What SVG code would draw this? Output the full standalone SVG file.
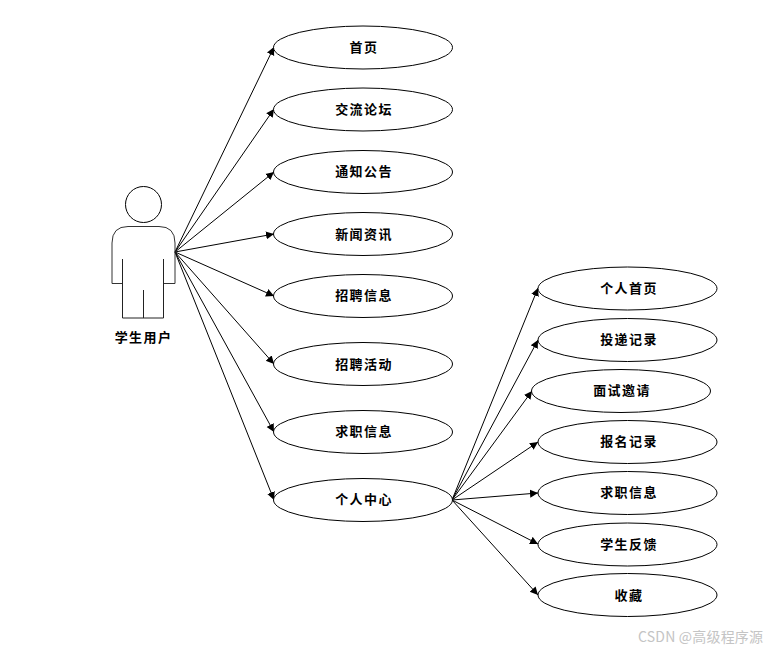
<svg xmlns="http://www.w3.org/2000/svg" width="771" height="651" viewBox="0 0 771 651">
<style>
.n{fill:#fff;stroke:#000;stroke-width:1}
.t{font-family:"Noto Sans CJK SC",sans-serif;font-size:13px;font-weight:700;text-anchor:middle;dominant-baseline:central;letter-spacing:1.400px;fill:#000}
.c{stroke:#000;stroke-width:1;fill:none;marker-end:url(#a)}
.w{font-family:"Noto Sans CJK SC",sans-serif;font-size:14px;letter-spacing:.2px;fill:#c4c4c4}
</style>
<defs><marker id="a" markerUnits="userSpaceOnUse" markerWidth="10" markerHeight="10" refX="8" refY="4.500" orient="auto"><path d="M0 0.500L8 4.500L0 8.500Z" fill="#000"/></marker></defs>
<rect width="771" height="651" fill="#fff"/>
<g id="connectors">
<path class="c" d="M175 252L274 47"/>
<path class="c" d="M175 252L274 109"/>
<path class="c" d="M175 252L274 172"/>
<path class="c" d="M175 252L274 234"/>
<path class="c" d="M175 252L274 296"/>
<path class="c" d="M175 252L274 364"/>
<path class="c" d="M175 252L274 432"/>
<path class="c" d="M175 252L274 500"/>
<path class="c" d="M452 500L538 288"/>
<path class="c" d="M452 500L538 340"/>
<path class="c" d="M452 500L532 391" stroke-width="1.400"/>
<path class="c" d="M452 500L538 442"/>
<path class="c" d="M452 500L538 493"/>
<path class="c" d="M452 500L538 544"/>
<path class="c" d="M452 500L538 595"/>
</g>
<g id="actor" fill="none" stroke="#000">
<circle cx="143.500" cy="204.500" r="18" fill="#fff"/>
<path d="M122 283.500H112V243Q112 226.500 128 226.500H159Q175 226.500 175 243V283.500H164" stroke="#333"/>
<path d="M122.500 259V318H163.500V259M143.500 290V318" stroke="#222"/>
<text class="t" x="143.500" y="336" stroke="none">学生用户</text>
</g>
<g id="n1"><ellipse class="n" cx="363" cy="47.500" rx="89.500" ry="21.500"/><text class="t" x="364" y="46">首页</text></g>
<g id="n2"><ellipse class="n" cx="363" cy="109.500" rx="89.500" ry="21.500"/><text class="t" x="364" y="108">交流论坛</text></g>
<g id="n3"><ellipse class="n" cx="363" cy="172" rx="89.500" ry="21.500"/><text class="t" x="364" y="170">通知公告</text></g>
<g id="n4"><ellipse class="n" cx="363" cy="234" rx="89.500" ry="21.500"/><text class="t" x="364" y="233">新闻资讯</text></g>
<g id="n5"><ellipse class="n" cx="363" cy="296" rx="89.500" ry="21.500"/><text class="t" x="364" y="294">招聘信息</text></g>
<g id="n6"><ellipse class="n" cx="363" cy="364" rx="89.500" ry="21.500"/><text class="t" x="364" y="363">招聘活动</text></g>
<g id="n7"><ellipse class="n" cx="363" cy="432" rx="89.500" ry="21.500"/><text class="t" x="364" y="430">求职信息</text></g>
<g id="n8"><ellipse class="n" cx="363" cy="500" rx="89.500" ry="21.500"/><text class="t" x="364" y="498">个人中心</text></g>
<g id="m1"><ellipse class="n" cx="627.500" cy="288.500" rx="89.500" ry="21.500"/><text class="t" x="629" y="287">个人首页</text></g>
<g id="m2"><ellipse class="n" cx="627.500" cy="340" rx="89.500" ry="21.500"/><text class="t" x="629" y="338">投递记录</text></g>
<g id="m3"><ellipse class="n" cx="621" cy="391" rx="89.500" ry="21.500"/><text class="t" x="622" y="389">面试邀请</text></g>
<g id="m4"><ellipse class="n" cx="627.500" cy="442" rx="89.500" ry="21.500"/><text class="t" x="629" y="440">报名记录</text></g>
<g id="m5"><ellipse class="n" cx="627.500" cy="493" rx="89.500" ry="21.500"/><text class="t" x="629" y="491">求职信息</text></g>
<g id="m6"><ellipse class="n" cx="627.500" cy="544.500" rx="89.500" ry="21.500"/><text class="t" x="629" y="543">学生反馈</text></g>
<g id="m7"><ellipse class="n" cx="627.500" cy="595" rx="89.500" ry="21.500"/><text class="t" x="629" y="594">收藏</text></g>
<text class="w" x="638" y="642">CSDN @高级程序源</text>
</svg>
